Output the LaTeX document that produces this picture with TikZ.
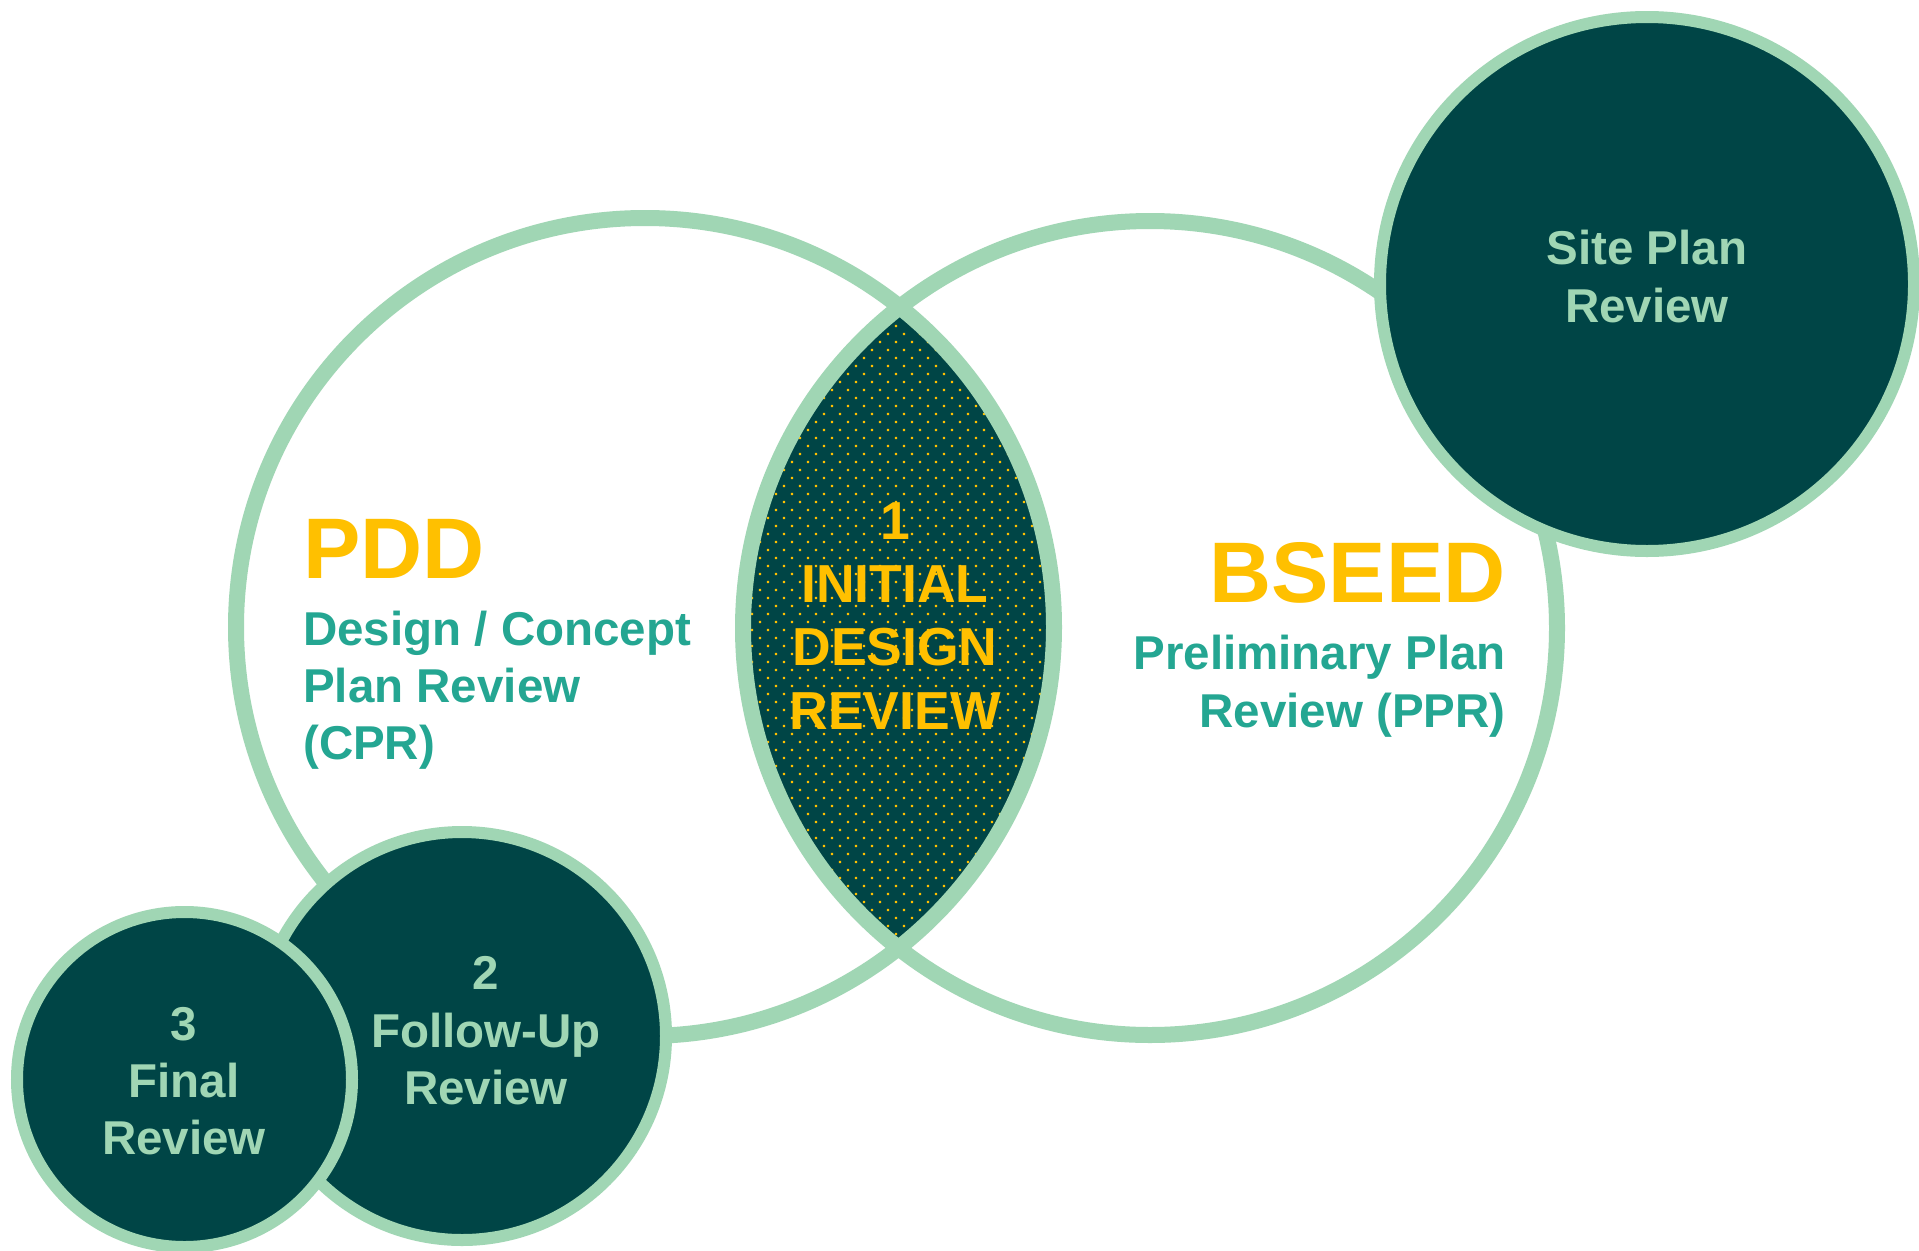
\documentclass[tikz,border=0pt]{standalone}
\usepackage{fontspec}
\setmainfont{Liberation Sans}
\definecolor{ring}{RGB}{160,214,180}
\definecolor{deep}{RGB}{0,69,70}
\definecolor{gold}{RGB}{255,192,0}
\definecolor{tealtxt}{RGB}{36,166,146}
\begin{document}
\begin{tikzpicture}[x=1pt,y=-1pt,
  bigring/.style={circle, draw=ring, line width=16pt, inner sep=0pt, minimum size=#1},
  smallc/.style={circle, draw=ring, fill=deep, line width=12pt, inner sep=0pt, minimum size=#1},
  txtm/.style={inner sep=0pt, font=\bfseries\fontsize{47.5}{57}\selectfont},
  txtl/.style={inner sep=0pt, font=\bfseries\fontsize{53.5}{63}\selectfont, text=gold},
  txtxl/.style={inner sep=0pt, font=\bfseries\fontsize{86}{90}\selectfont, text=gold}]
\useasboundingbox (0,0) rectangle (1919,1250);
\fill[white] (0,0) rectangle (1919,1250);
% lens
\begin{scope}
  \clip (645,627) circle (409pt);
  \clip (1150,628) circle (407pt);
  \fill[deep] (700,280) rectangle (1100,980);
  \fill[gold] foreach \i in {0,...,20} { foreach \j in {0,...,41} {
      ({736+16*\i-1.2},{294+16*\j-1.2}) rectangle ++(2.4,2.4)
      ({744+16*\i-1.2},{302+16*\j-1.2}) rectangle ++(2.4,2.4) } };
\end{scope}
% big rings
\node[bigring=818pt] (pddc) at (645,627) {};
\node[bigring=814pt] (bseedc) at (1150,628) {};
% small circles
\node[smallc=408pt] (follow) at (462,1036) {};
\node[smallc=335pt] (final) at (184.5,1079.5) {};
\node[smallc=534pt] (site) at (1647,284) {};
% lens text
\node[txtl, anchor=base] (t1) at (895,539) {1};
\node[txtl, anchor=base] (t2) at (895,602) {INITIAL};
\node[txtl, anchor=base] (t3) at (895,665) {DESIGN};
\node[txtl, anchor=base] (t4) at (895,729) {REVIEW};
% PDD
\node[txtxl, anchor=base west] (pdd) at (303,578) {PDD};
\node[txtm, text=tealtxt, anchor=base west] (p1) at (303,645) {Design / Concept};
\node[txtm, text=tealtxt, anchor=base west] (p2) at (303,702) {Plan Review};
\node[txtm, text=tealtxt, anchor=base west] (p3) at (303,759) {(CPR)};
% BSEED
\node[txtxl, anchor=base east] (bseed) at (1506,602) {BSEED};
\node[txtm, text=tealtxt, anchor=base east] (b1) at (1506,669) {Preliminary Plan};
\node[txtm, text=tealtxt, anchor=base east] (b2) at (1506,727) {Review (PPR)};
% site plan
\node[txtm, text=ring, anchor=base] (s1) at (1647,264) {Site Plan};
\node[txtm, text=ring, anchor=base] (s2) at (1647,322) {Review};
% follow-up
\node[txtm, text=ring, anchor=base] (f1) at (486,989) {2};
\node[txtm, text=ring, anchor=base] (f2) at (486,1047) {Follow-Up};
\node[txtm, text=ring, anchor=base] (f3) at (486,1104) {Review};
% final
\node[txtm, text=ring, anchor=base] (g1) at (184,1040) {3};
\node[txtm, text=ring, anchor=base] (g2) at (184,1097) {Final};
\node[txtm, text=ring, anchor=base] (g3) at (184,1154) {Review};
\end{tikzpicture}
\end{document}
